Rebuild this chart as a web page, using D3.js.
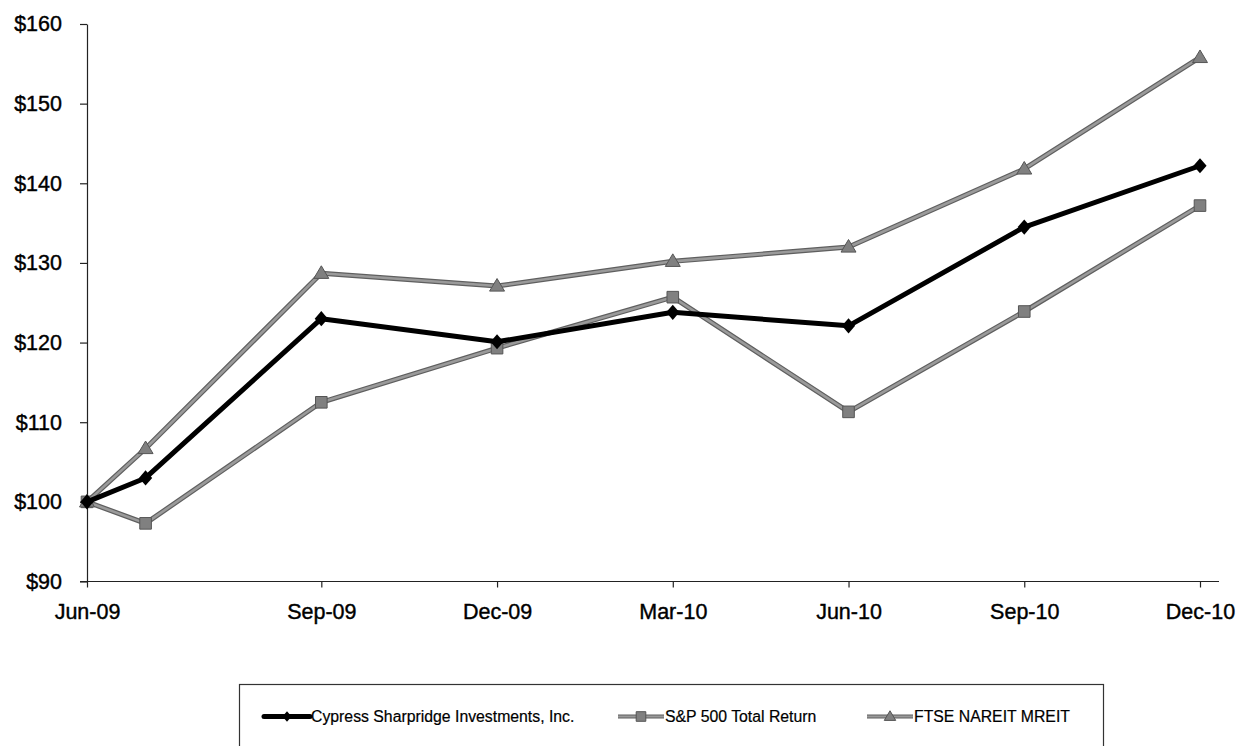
<!DOCTYPE html>
<html>
<head>
<meta charset="utf-8">
<script src="https://cdn.jsdelivr.net/npm/d3@7/dist/d3.min.js"></script>
<style>
  html, body { margin: 0; padding: 0; background: #fff; }
  svg { display: block; }
  text { font-family: "Liberation Sans", Arial, Helvetica, sans-serif; fill: #000; }
</style>
</head>
<body>
<svg id="chart" width="1239" height="746"></svg>
<script>
// Months elapsed since the starting point of the index (first point = $100)
const months = [0, 1, 4, 7, 10, 13, 16, 19];

// Cumulative value of $100 invested
const cypress = [100, 103.0, 123.0, 120.1, 123.8, 122.1, 134.5, 142.2];
const sp500   = [100, 97.3, 112.5, 119.3, 125.7, 111.3, 123.9, 137.2];
const nareit  = [100, 106.7, 128.7, 127.1, 130.2, 132.0, 141.8, 155.8];

const seriesNames = [
  "Cypress Sharpridge Investments, Inc.",
  "S&P 500 Total Return",
  "FTSE NAREIT MREIT"
];

// Axis labels
const xTickMonths = [0, 4, 7, 10, 13, 16, 19];
const xTickLabels = ["Jun-09", "Sep-09", "Dec-09", "Mar-10", "Jun-10", "Sep-10", "Dec-10"];
const yTicks = [90, 100, 110, 120, 130, 140, 150, 160];

const svg = d3.select("#chart");

const x = d3.scaleLinear().domain([0, 19]).range([87, 1200]);
const y = d3.scaleLinear().domain([90, 160]).range([581.5, 24]);

// ---- axes ----
const yAxis = d3.axisLeft(y)
  .tickValues(yTicks)
  .tickFormat(d => "$" + d)
  .tickSize(7)
  .tickSizeOuter(0)
  .tickPadding(18);

const gy = svg.append("g").attr("transform", `translate(${x(0)},0)`).call(yAxis);
gy.select(".domain").attr("stroke", "#222").attr("stroke-width", 1.2);
gy.selectAll(".tick line").attr("stroke", "#222").attr("stroke-width", 1.2);
gy.selectAll(".tick text")
  .attr("font-size", 21.5)
  .attr("fill", "#000")
  .attr("stroke", "#000").attr("stroke-width", 0.4);

const xAxis = d3.axisBottom(x)
  .tickValues(xTickMonths)
  .tickFormat((d, i) => xTickLabels[i])
  .tickSize(6)
  .tickSizeOuter(0)
  .tickPadding(16);

const gx = svg.append("g").attr("transform", `translate(0,${y(90)})`).call(xAxis);
gx.select(".domain").remove();
gx.append("line")
  .attr("x1", x(0) - 7).attr("x2", x(19) + 19)
  .attr("y1", 0).attr("y2", 0)
  .attr("stroke", "#222").attr("stroke-width", 1.2);
gx.selectAll(".tick line").attr("stroke", "#222").attr("stroke-width", 1.2);
gx.selectAll(".tick text")
  .attr("font-size", 21.5)
  .attr("fill", "#000")
  .attr("stroke", "#000").attr("stroke-width", 0.4);

// ---- series ----
const line = d3.line().x(d => x(d.m)).y(d => y(d.v));
const toPoints = vals => vals.map((v, i) => ({ m: months[i], v }));

const diamond = (s) => `M0,${-s * 1.15}L${s},0L0,${s * 1.15}L${-s},0Z`;
const square = (s) => `M${-s},${-s}H${s}V${s}H${-s}Z`;
const triangle = (s) => `M0,${-s * 1.1}L${s * 1.1},${s * 0.75}L${-s * 1.1},${s * 0.75}Z`;

// grey series: darker rim with lighter core, as in a halftone print
function greySeries(vals, markerPath) {
  const g = svg.append("g");
  const pts = toPoints(vals);
  g.append("path").datum(pts).attr("d", line)
    .attr("fill", "none").attr("stroke", "#5f5f5f").attr("stroke-width", 5)
    .attr("stroke-linejoin", "round");
  g.append("path").datum(pts).attr("d", line)
    .attr("fill", "none").attr("stroke", "#9a9a9a").attr("stroke-width", 2.6)
    .attr("stroke-linejoin", "round");
  g.selectAll("path.mk").data(pts).join("path")
    .attr("class", "mk")
    .attr("transform", d => `translate(${x(d.m)},${y(d.v)})`)
    .attr("d", markerPath)
    .attr("fill", "#808080").attr("stroke", "#555").attr("stroke-width", 1);
}

greySeries(sp500, square(5.8));
greySeries(nareit, triangle(6.8));

// Cypress series: heavy black line with diamond markers
const cg = svg.append("g");
const cpts = toPoints(cypress);
cg.append("path").datum(cpts).attr("d", line)
  .attr("fill", "none").attr("stroke", "#000").attr("stroke-width", 5)
  .attr("stroke-linejoin", "round");
cg.selectAll("path.mk").data(cpts).join("path")
  .attr("class", "mk")
  .attr("transform", d => `translate(${x(d.m)},${y(d.v)})`)
  .attr("d", diamond(6.6))
  .attr("fill", "#000");

// ---- legend ----
const legend = svg.append("g");
legend.append("rect")
  .attr("x", 239.5).attr("y", 684.5)
  .attr("width", 864).attr("height", 80)
  .attr("fill", "none").attr("stroke", "#333").attr("stroke-width", 1.2);

const legendItems = [
  { name: seriesNames[0], x0: 264, kind: "cypress" },
  { name: seriesNames[1], x0: 618, kind: "sp" },
  { name: seriesNames[2], x0: 867, kind: "nareit" }
];
const ly = 716.5;
const sampleW = 46;

legendItems.forEach(it => {
  const g = legend.append("g");
  const cx = it.x0 + sampleW / 2;
  if (it.kind === "cypress") {
    g.append("line").attr("x1", it.x0).attr("x2", it.x0 + sampleW)
      .attr("y1", ly).attr("y2", ly)
      .attr("stroke", "#000").attr("stroke-width", 5).attr("stroke-linecap", "round");
    g.append("path").attr("transform", `translate(${cx},${ly})`)
      .attr("d", diamond(4.5)).attr("fill", "#000");
  } else {
    g.append("line").attr("x1", it.x0).attr("x2", it.x0 + sampleW)
      .attr("y1", ly).attr("y2", ly)
      .attr("stroke", "#5f5f5f").attr("stroke-width", 4);
    g.append("line").attr("x1", it.x0).attr("x2", it.x0 + sampleW)
      .attr("y1", ly).attr("y2", ly)
      .attr("stroke", "#9a9a9a").attr("stroke-width", 2);
    g.append("path").attr("transform", `translate(${cx},${ly})`)
      .attr("d", it.kind === "sp" ? square(4.8) : triangle(5.2))
      .attr("fill", "#808080").attr("stroke", "#555").attr("stroke-width", 1);
  }
  g.append("text")
    .attr("x", it.x0 + sampleW + 1)
    .attr("y", ly)
    .attr("dy", "0.35em")
    .attr("font-size", 15.8)
    .attr("stroke", "#000").attr("stroke-width", 0.2)
    .text(it.name);
});
</script>
</body>
</html>
